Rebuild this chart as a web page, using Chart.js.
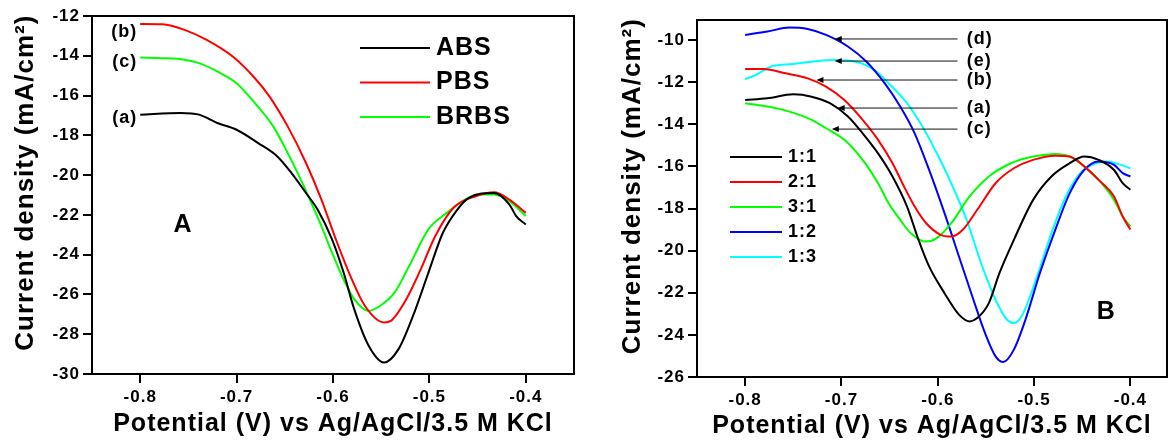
<!DOCTYPE html>
<html>
<head>
<meta charset="utf-8">
<script src="https://cdn.jsdelivr.net/npm/chart.js@4.4.0/dist/chart.umd.min.js"></script>
<style>
  html, body { margin: 0; padding: 0; background: #fff; overflow: hidden; }
  body { width: 1169px; height: 442px; position: relative; }
  #wrapA { position: absolute; left: 0; top: 0; width: 580px; height: 442px; }
  #wrapB { position: absolute; left: 590px; top: 0; width: 579px; height: 442px; }
</style>
</head>
<body>
<div id="wrapA"><canvas id="chartA" width="580" height="442"></canvas></div>
<div id="wrapB"><canvas id="chartB" width="579" height="442"></canvas></div>
<script>
// ---- Panel A: buffer comparison (potential in V, current density in mA/cm2)
const absV = [-0.800, -0.758, -0.739, -0.720, -0.700, -0.678, -0.658, -0.643, -0.628, -0.616, -0.601, -0.589, -0.578, -0.563, -0.547, -0.532, -0.517, -0.501, -0.486, -0.471, -0.459, -0.433, -0.417, -0.410, -0.400];
const absJ = [-16.96, -16.88, -16.96, -17.38, -17.72, -18.38, -19.05, -19.90, -20.90, -21.73, -23.23, -24.90, -26.74, -28.58, -29.42, -28.75, -27.08, -24.90, -22.90, -21.73, -21.14, -20.90, -21.48, -22.06, -22.48];

const pbsV = [-0.800, -0.777, -0.754, -0.731, -0.704, -0.681, -0.666, -0.647, -0.628, -0.612, -0.597, -0.582, -0.567, -0.547, -0.540, -0.524, -0.509, -0.494, -0.475, -0.452, -0.433, -0.417, -0.400];
const pbsJ = [-12.40, -12.42, -12.70, -13.20, -14.04, -15.13, -16.04, -17.55, -19.39, -21.23, -23.23, -25.07, -26.57, -27.41, -27.33, -26.24, -24.74, -23.07, -21.64, -21.06, -20.86, -21.23, -21.90];

const brbsV = [-0.800, -0.777, -0.754, -0.739, -0.720, -0.700, -0.681, -0.662, -0.647, -0.635, -0.624, -0.612, -0.601, -0.589, -0.578, -0.563, -0.551, -0.536, -0.521, -0.501, -0.482, -0.463, -0.448, -0.433, -0.417, -0.400];
const brbsJ = [-14.09, -14.12, -14.20, -14.37, -14.79, -15.38, -16.38, -17.55, -18.89, -20.06, -21.23, -22.56, -23.90, -25.24, -26.24, -26.83, -26.57, -25.90, -24.57, -22.73, -21.90, -21.23, -20.98, -20.98, -21.31, -22.06];

// ---- Panel B: ratio comparison
const r11V = [-0.800, -0.777, -0.750, -0.731, -0.712, -0.693, -0.678, -0.662, -0.647, -0.632, -0.620, -0.609, -0.593, -0.578, -0.567, -0.559, -0.547, -0.536, -0.521, -0.501, -0.482, -0.463, -0.448, -0.433, -0.417, -0.408, -0.400];
const r11J = [-12.85, -12.77, -12.58, -12.69, -13.00, -13.64, -14.43, -15.38, -16.48, -17.90, -19.49, -20.75, -22.02, -23.04, -23.36, -23.20, -22.49, -21.07, -19.49, -17.59, -16.48, -15.85, -15.53, -15.69, -16.17, -16.80, -17.11];

const r21V = [-0.800, -0.781, -0.758, -0.735, -0.716, -0.697, -0.678, -0.662, -0.647, -0.635, -0.624, -0.612, -0.597, -0.586, -0.574, -0.559, -0.540, -0.521, -0.501, -0.478, -0.463, -0.448, -0.433, -0.417, -0.408, -0.400];
const r21J = [-11.38, -11.38, -11.58, -11.82, -12.21, -12.85, -13.79, -14.74, -15.85, -16.96, -17.90, -18.70, -19.25, -19.33, -19.01, -18.06, -16.80, -16.09, -15.69, -15.49, -15.53, -16.00, -16.64, -17.43, -18.38, -19.00];

const r31V = [-0.800, -0.777, -0.754, -0.731, -0.716, -0.697, -0.678, -0.662, -0.651, -0.639, -0.628, -0.612, -0.601, -0.586, -0.567, -0.547, -0.524, -0.501, -0.478, -0.463, -0.448, -0.433, -0.417, -0.408, -0.400];
const r31J = [-13.00, -13.16, -13.40, -13.79, -14.19, -14.74, -15.69, -16.80, -17.75, -18.54, -19.17, -19.57, -19.41, -18.70, -17.43, -16.48, -15.85, -15.53, -15.41, -15.53, -16.00, -16.64, -17.59, -18.38, -18.85];

const r12V = [-0.800, -0.777, -0.754, -0.735, -0.716, -0.693, -0.674, -0.655, -0.639, -0.624, -0.609, -0.593, -0.578, -0.563, -0.551, -0.540, -0.532, -0.521, -0.509, -0.494, -0.478, -0.463, -0.448, -0.433, -0.417, -0.408, -0.400];
const r12J = [-9.76, -9.60, -9.41, -9.48, -9.76, -10.32, -11.03, -12.06, -13.16, -14.43, -16.17, -18.22, -20.28, -22.33, -23.91, -25.02, -25.29, -24.70, -23.28, -21.07, -19.01, -17.27, -16.17, -15.77, -15.93, -16.32, -16.48];

const r13V = [-0.800, -0.789, -0.773, -0.750, -0.731, -0.708, -0.685, -0.666, -0.651, -0.632, -0.616, -0.601, -0.586, -0.570, -0.555, -0.540, -0.528, -0.521, -0.513, -0.498, -0.482, -0.467, -0.452, -0.436, -0.425, -0.410, -0.400];
const r13J = [-11.85, -11.66, -11.26, -11.14, -11.03, -10.95, -11.03, -11.42, -12.06, -13.00, -14.11, -15.38, -16.80, -18.54, -20.59, -22.33, -23.28, -23.44, -23.12, -21.38, -19.17, -17.43, -16.32, -15.85, -15.77, -15.93, -16.09];

// tick values
const xTicks = [-0.8, -0.7, -0.6, -0.5, -0.4];
const yTicksA = [-30, -28, -26, -24, -22, -20, -18, -16, -14, -12];
const yTicksB = [-26, -24, -22, -20, -18, -16, -14, -12, -10];

const FONT = '"Liberation Sans", Arial, sans-serif';
const yTitle = '   Current density (mA/cm\u00B2)';
const xTitle = 'Potential (V) vs Ag/AgCl/3.5 M KCl';

function toPoints(xs, ys) {
    return xs.map((v, i) => ({ x: v, y: ys[i] }));
}

function line(label, color, xs, ys) {
    return { label: label, data: toPoints(xs, ys), borderColor: color, backgroundColor: color };
}

// frame, legend, labels and arrows drawn on top of the plot
const overlay = {
    id: 'overlay',
    beforeDraw(chart) {
        chart.ctx.letterSpacing = '1px';
    },
    afterDraw(chart, args, opts) {
        const { ctx, chartArea: a, scales: { x, y } } = chart;
        ctx.save();
        ctx.letterSpacing = '1px';
        ctx.strokeStyle = '#000';
        ctx.lineWidth = 2;
        ctx.strokeRect(a.left, a.top, a.right - a.left, a.bottom - a.top);

        const lg = opts.legend;
        ctx.font = 'bold ' + lg.size + 'px ' + FONT;
        ctx.textBaseline = 'middle';
        ctx.textAlign = 'left';
        chart.data.datasets.forEach((ds, i) => {
            const ly = lg.top + i * lg.gap;
            ctx.strokeStyle = ds.borderColor;
            ctx.lineWidth = 2.2;
            ctx.beginPath();
            ctx.moveTo(lg.left, ly);
            ctx.lineTo(lg.left + lg.len, ly);
            ctx.stroke();
            ctx.fillStyle = '#000';
            ctx.fillText(ds.label, lg.left + lg.len + 6, ly);
        });

        opts.tags.forEach(t => {
            const px = x.getPixelForValue(t.x);
            const py = y.getPixelForValue(t.y);
            ctx.font = 'bold ' + t.size + 'px ' + FONT;
            ctx.textAlign = t.align;
            ctx.fillStyle = '#000';
            ctx.fillText(t.text, px, py);
            if (t.tip !== undefined) {
                const tail = x.getPixelForValue(t.tail);
                const tip = x.getPixelForValue(t.tip);
                ctx.strokeStyle = '#111';
                ctx.lineWidth = 1;
                ctx.beginPath();
                ctx.moveTo(tail, py);
                ctx.lineTo(tip + 6, py);
                ctx.stroke();
                ctx.beginPath();
                ctx.moveTo(tip, py);
                ctx.lineTo(tip + 7, py - 3);
                ctx.lineTo(tip + 7, py + 3);
                ctx.closePath();
                ctx.fill();
            }
        });
        ctx.restore();
    }
};

function buildOptions(p) {
    const tickGrid = { drawOnChartArea: false, drawTicks: true, tickLength: 9, color: '#000', lineWidth: 2 };
    return {
        responsive: false,
        animation: false,
        layout: { padding: { left: 0, top: p.top, right: p.right, bottom: 0 } },
        elements: {
            point: { radius: 0 },
            line: { borderWidth: 2, cubicInterpolationMode: 'monotone' }
        },
        plugins: {
            legend: { display: false },
            tooltip: { enabled: false },
            overlay: { legend: p.legend, tags: p.tags }
        },
        scales: {
            x: {
                type: 'linear',
                min: -0.85,
                max: p.xMax,
                afterBuildTicks: s => { s.ticks = xTicks.map(v => ({ value: v })); },
                afterFit: s => { s.height = p.xHeight; },
                grid: tickGrid,
                border: { display: false },
                ticks: {
                    color: '#000', padding: 4, maxRotation: 0, autoSkip: false,
                    font: { family: FONT, size: 17, weight: 'bold' },
                    callback: v => v.toFixed(1)
                },
                title: {
                    display: true, text: xTitle, color: '#000',
                    font: { family: FONT, size: 25, weight: 'bold' },
                    padding: { top: 0, bottom: p.xTitlePad }
                }
            },
            y: {
                type: 'linear',
                min: p.yMin,
                max: p.yMax,
                afterBuildTicks: s => { s.ticks = p.yTicks.map(v => ({ value: v })); },
                afterFit: s => { s.width = p.yWidth; },
                grid: tickGrid,
                border: { display: false },
                ticks: {
                    color: '#000', padding: 3,
                    font: { family: FONT, size: 17, weight: 'bold' },
                    callback: v => String(v)
                },
                title: {
                    display: true, text: yTitle, color: '#000',
                    font: { family: FONT, size: 26, weight: 'bold' },
                    padding: { top: p.yTitlePad, bottom: 0 }
                }
            }
        }
    };
}

new Chart(document.getElementById('chartA'), {
    type: 'line',
    data: {
        datasets: [
            line('ABS', '#000000', absV, absJ),
            line('PBS', '#ff0000', pbsV, pbsJ),
            line('BRBS', '#00ff00', brbsV, brbsJ)
        ]
    },
    options: buildOptions({
        top: 16, right: 6, xMax: -0.35, xHeight: 68, xTitlePad: 3,
        yMin: -30, yMax: -12, yTicks: yTicksA, yWidth: 92, yTitlePad: 10,
        legend: { left: 360, top: 48, gap: 34.5, len: 70, size: 25 },
        tags: [
            { text: '(b)', x: -0.803, y: -12.8, align: 'right', size: 18 },
            { text: '(c)', x: -0.803, y: -14.31, align: 'right', size: 18 },
            { text: '(a)', x: -0.803, y: -17.13, align: 'right', size: 18 },
            { text: 'A', x: -0.7556, y: -22.5, align: 'center', size: 25 }
        ]
    }),
    plugins: [overlay]
});

new Chart(document.getElementById('chartB'), {
    type: 'line',
    data: {
        datasets: [
            line('1:1', '#000000', r11V, r11J),
            line('2:1', '#ff0000', r21V, r21J),
            line('3:1', '#00ff00', r31V, r31J),
            line('1:2', '#0000ff', r12V, r12J),
            line('1:3', '#00ffff', r13V, r13J)
        ]
    },
    options: buildOptions({
        top: 20, right: 2, xMax: -0.362, xHeight: 65, xTitlePad: 1,
        yMin: -26, yMax: -9.05, yTicks: yTicksB, yWidth: 107, yTitlePad: 27,
        legend: { left: 140, top: 157, gap: 25, len: 52, size: 18 },
        tags: [
            { text: '(d)', x: -0.570, y: -9.95, align: 'left', size: 18, tip: -0.707, tail: -0.5795 },
            { text: '(e)', x: -0.570, y: -11.0, align: 'left', size: 18, tip: -0.707, tail: -0.5795 },
            { text: '(b)', x: -0.570, y: -11.9, align: 'left', size: 18, tip: -0.726, tail: -0.5795 },
            { text: '(a)', x: -0.570, y: -13.23, align: 'left', size: 18, tip: -0.704, tail: -0.5795 },
            { text: '(c)', x: -0.570, y: -14.23, align: 'left', size: 18, tip: -0.710, tail: -0.5795 },
            { text: 'B', x: -0.425, y: -22.92, align: 'center', size: 25 }
        ]
    }),
    plugins: [overlay]
});
</script>
</body>
</html>
